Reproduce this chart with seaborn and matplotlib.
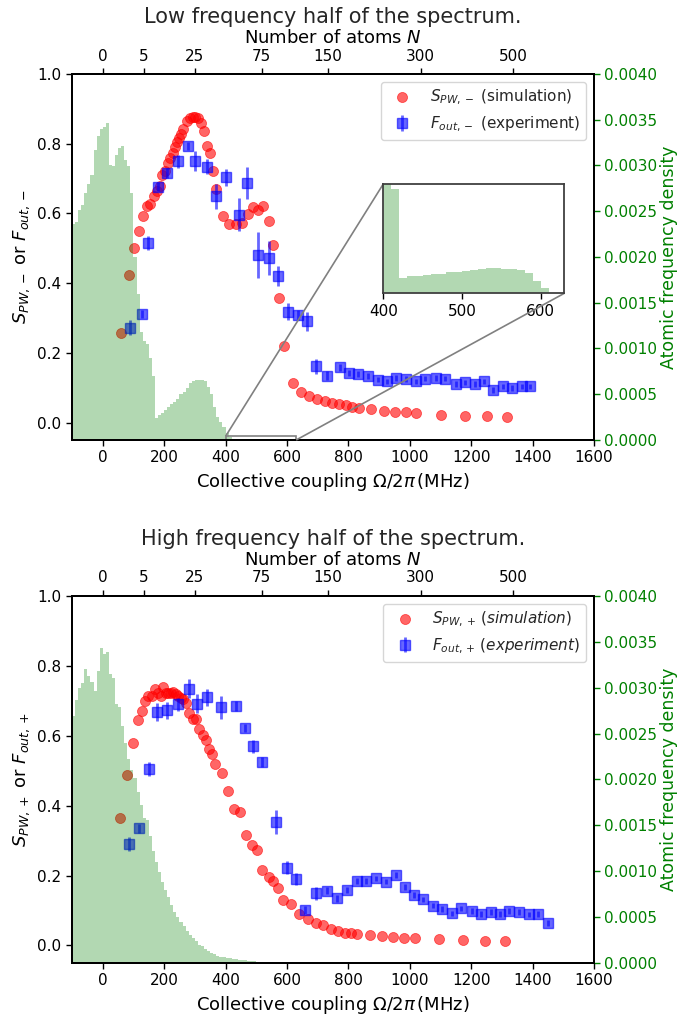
import numpy as np
import pandas as pd
import matplotlib
matplotlib.use("Agg")
import matplotlib.pyplot as plt
import seaborn as sns
from matplotlib.ticker import FormatStrFormatter
from mpl_toolkits.axes_grid1.inset_locator import mark_inset

# ---------------- data ----------------
g_coupling = 59.8                      # MHz per sqrt(atom)
atoms_N = [0, 5, 25, 75, 150, 300, 500]

hist_bin_width = 10
low_hist_start = -100
low_density = [0.00236, 0.00238, 0.00251, 0.00257, 0.00270, 0.00280, 0.00290, 0.00317, 0.00332, 0.00340,
               0.00342, 0.00346, 0.00300, 0.00299, 0.00312, 0.00319, 0.00321, 0.00306, 0.00299, 0.00270,
               0.00200, 0.00160, 0.00118, 0.00108, 0.00105, 0.00090, 0.00070, 0.00024, 0.00027, 0.00030,
               0.00033, 0.00036, 0.00039, 0.00042, 0.00045, 0.00050, 0.00053, 0.00057, 0.00062, 0.00065,
               0.00066, 0.00066, 0.00066, 0.00065, 0.00058, 0.00050, 0.00036, 0.00025, 0.00020, 0.00014,
               0.00008, 0.000038, 0.0000055, 0.0000062, 0.0000064, 0.0000066, 0.0000070, 0.0000072, 0.0000076, 0.0000078,
               0.0000082, 0.0000084, 0.0000088, 0.0000092, 0.0000092, 0.0000090, 0.0000090, 0.0000085, 0.0000075, 0.0000045,
               0.0000020]
high_hist_start = -100
high_density = [0.00269, 0.00287, 0.00300, 0.00305, 0.00320, 0.00313, 0.00306, 0.00296, 0.00318, 0.00343,
                0.00337, 0.00339, 0.00315, 0.00310, 0.00282, 0.00279, 0.00258, 0.00240, 0.00222, 0.00210,
                0.00202, 0.00186, 0.00172, 0.00158, 0.00156, 0.00138, 0.00122, 0.00110, 0.00099, 0.00088,
                0.00080, 0.00072, 0.00063, 0.00056, 0.00050, 0.00045, 0.00040, 0.00035, 0.00030, 0.00027,
                0.00024, 0.00020, 0.00018, 0.00015, 0.00013, 0.00011, 0.00010, 0.00008, 0.00007, 0.00006,
                0.00005, 0.00005, 0.00004, 0.00004, 0.00003, 0.00003, 0.00003, 0.00002, 0.00002, 0.00002,
                0.00001, 0.00001]

# Low-frequency half: simulation
sim_low_x = [60, 85, 102, 118, 132, 143, 154, 168, 178, 187, 194, 203, 212, 219, 228, 235, 243, 250, 255,
             263, 273, 284, 293, 301, 309, 320, 331, 341, 350, 360, 370, 392, 412, 433, 453, 472, 490, 506,
             522, 540, 554, 574, 590, 620, 647, 672, 698, 723, 748, 770, 792, 813, 835, 875, 915, 952, 988,
             1021, 1103, 1180, 1252, 1318]
sim_low_y = [0.257, 0.423, 0.50, 0.55, 0.593, 0.621, 0.628, 0.649, 0.663, 0.68, 0.71, 0.723, 0.745, 0.758,
             0.772, 0.791, 0.804, 0.816, 0.828, 0.842, 0.864, 0.875, 0.877, 0.877, 0.875, 0.858, 0.835, 0.794,
             0.772, 0.723, 0.67, 0.594, 0.57, 0.57, 0.572, 0.599, 0.618, 0.609, 0.621, 0.578, 0.509, 0.358,
             0.22, 0.113, 0.088, 0.077, 0.069, 0.062, 0.057, 0.052, 0.049, 0.046, 0.043, 0.039, 0.034, 0.031,
             0.029, 0.027, 0.023, 0.020, 0.018, 0.016]
# Low-frequency half: experiment
exp_low_x = [90, 129, 146, 179, 208, 244, 277, 301, 339, 369, 402, 444, 471, 505, 541, 572, 605, 637, 666,
             696, 731, 772, 802, 831, 864, 896, 925, 954, 987, 1019, 1051, 1084, 1116, 1151, 1180, 1211,
             1243, 1272, 1305, 1334, 1364, 1392]
exp_low_y = [0.272, 0.311, 0.515, 0.677, 0.715, 0.75, 0.794, 0.75, 0.734, 0.649, 0.704, 0.596, 0.687, 0.48,
             0.473, 0.42, 0.318, 0.309, 0.29, 0.161, 0.135, 0.158, 0.142, 0.139, 0.134, 0.123, 0.118, 0.128,
             0.125, 0.118, 0.126, 0.128, 0.126, 0.111, 0.115, 0.111, 0.118, 0.094, 0.104, 0.099, 0.104, 0.104]
exp_low_err = [0.021, 0.012, 0.02, 0.014, 0.014, 0.019, 0.012, 0.028, 0.021, 0.035, 0.024, 0.047, 0.047,
               0.066, 0.049, 0.028, 0.024, 0.014, 0.026, 0.021, 0.012, 0.01, 0.008, 0.008, 0.008, 0.008,
               0.008, 0.008, 0.008, 0.008, 0.008, 0.008, 0.008, 0.008, 0.008, 0.008, 0.008, 0.008, 0.008,
               0.008, 0.008, 0.008]

# High-frequency half: simulation
sim_high_x = [55, 80, 98, 114, 127, 139, 149, 160, 170, 181, 190, 197, 206, 214, 222, 230, 238, 246, 254,
              261, 271, 282, 293, 304, 315, 326, 335, 345, 355, 366, 389, 409, 429, 447, 467, 485, 502, 518,
              541, 555, 571, 586, 613, 639, 668, 693, 719, 743, 766, 788, 809, 829, 869, 911, 946, 981, 1016,
              1095, 1174, 1246, 1311]
sim_high_y = [0.366, 0.487, 0.578, 0.645, 0.67, 0.699, 0.715, 0.713, 0.735, 0.723, 0.713, 0.74, 0.721,
              0.723, 0.721, 0.725, 0.718, 0.715, 0.709, 0.704, 0.694, 0.664, 0.647, 0.649, 0.618, 0.601,
              0.589, 0.562, 0.548, 0.52, 0.494, 0.443, 0.39, 0.383, 0.315, 0.288, 0.273, 0.216, 0.197, 0.185,
              0.164, 0.13, 0.119, 0.09, 0.077, 0.063, 0.058, 0.047, 0.042, 0.037, 0.036, 0.034, 0.030, 0.028,
              0.025, 0.022, 0.020, 0.018, 0.015, 0.013, 0.012]
# High-frequency half: experiment
exp_high_x = [87, 118, 150, 178, 208, 244, 280, 306, 339, 384, 434, 463, 488, 518, 564, 599, 629, 660, 696,
              731, 763, 796, 828, 858, 890, 921, 954, 984, 1013, 1043, 1076, 1105, 1137, 1168, 1202, 1233,
              1264, 1293, 1322, 1357, 1387, 1419, 1451]
exp_high_y = [0.29, 0.335, 0.505, 0.669, 0.673, 0.69, 0.735, 0.692, 0.71, 0.682, 0.685, 0.623, 0.57, 0.525,
              0.353, 0.223, 0.19, 0.101, 0.149, 0.156, 0.135, 0.159, 0.184, 0.184, 0.192, 0.183, 0.202, 0.168,
              0.144, 0.132, 0.114, 0.104, 0.092, 0.106, 0.099, 0.09, 0.096, 0.09, 0.098, 0.095, 0.089, 0.09,
              0.065]
exp_high_err = [0.02, 0.012, 0.021, 0.026, 0.024, 0.019, 0.027, 0.027, 0.024, 0.033, 0.014, 0.012, 0.019,
                0.015, 0.034, 0.019, 0.017, 0.011, 0.019, 0.01, 0.01, 0.008, 0.008, 0.008, 0.008, 0.008,
                0.008, 0.008, 0.008, 0.008, 0.008, 0.008, 0.008, 0.008, 0.008, 0.008, 0.008, 0.008, 0.008,
                0.008, 0.008, 0.008, 0.008]

# ---------------- style ----------------
sns.set_style("ticks")
plt.rcParams.update({
    "font.family": ["DejaVu Sans"],
    "font.size": 11,
    "axes.linewidth": 1.3,
    "xtick.major.width": 1.0,
    "ytick.major.width": 1.0,
    "xtick.major.size": 4,
    "ytick.major.size": 4,
    "axes.edgecolor": "black",
    "xtick.color": "black",
    "ytick.color": "black",
    "axes.labelcolor": "black",
})

fig = plt.figure(figsize=(6.77, 10.19), dpi=100)
ax_top = fig.add_axes([0.1064, 0.5682, 0.771, 0.3592])
ax_bot = fig.add_axes([0.1064, 0.0550, 0.771, 0.3602])


def draw_panel(ax, density, hist_start, sim_x, sim_y, exp_x, exp_y, exp_err, sign, title, italic):
    edges = [hist_start + hist_bin_width * i for i in range(len(density) + 1)]
    centers = [e + hist_bin_width / 2 for e in edges[:-1]]
    hist_df = pd.DataFrame({"omega": centers, "density": density})

    if italic:
        sim_label = r"$S_{PW,%s}\,(simulation)$" % sign
        exp_label = r"$F_{out,%s}\,(experiment)$" % sign
    else:
        sim_label = r"$S_{PW,%s}$ (simulation)" % sign
        exp_label = r"$F_{out,%s}$ (experiment)" % sign

    sim_df = pd.DataFrame({"x": sim_x, "y": sim_y})
    sns.scatterplot(data=sim_df, x="x", y="y", ax=ax, color="red", alpha=0.6, s=52,
                    edgecolor="red", linewidth=0.6, label=sim_label, zorder=3)
    ax.errorbar(exp_x, exp_y, yerr=exp_err, fmt="s", color="blue", alpha=0.6, ms=7.5,
                mec="blue", elinewidth=2, capsize=0, label=exp_label, zorder=3)

    ax.set_xlim(-100, 1600)
    ax.set_ylim(-0.05, 1.0)
    ax.set_xticks(np.arange(0, 1601, 200))
    ax.set_yticks(np.arange(0, 1.01, 0.2))
    ax.yaxis.set_major_formatter(FormatStrFormatter("%.1f"))
    ax.set_xlabel(r"Collective coupling $\Omega/2\pi\,$(MHz)", fontsize=13)
    ax.set_ylabel(r"$S_{PW,%s}$ or $F_{out,%s}$" % (sign, sign), fontsize=13)
    ax.legend(loc="upper right", fontsize=11, framealpha=0.8)

    ax2 = ax.twinx()
    sns.histplot(data=hist_df, x="omega", weights="density", bins=edges, ax=ax2,
                 color="green", alpha=0.3, linewidth=0, stat="count")
    ax2.set_ylim(0, 0.004)
    ax2.set_yticks(np.arange(0, 0.00401, 0.0005))
    ax2.yaxis.set_major_formatter(FormatStrFormatter("%.4f"))
    ax2.tick_params(axis="y", colors="green", labelsize=11)
    ax2.set_ylabel("Atomic frequency density", color="green", fontsize=12.5, labelpad=2)
    ax2.set_xlim(-100, 1600)

    ax3 = ax.twiny()
    ax3.set_xlim(-100, 1600)
    ax3.set_xticks(g_coupling * np.sqrt(np.array(atoms_N, dtype=float)))
    ax3.set_xticklabels([str(n) for n in atoms_N])
    ax3.set_xlabel(r"Number of atoms $N$", fontsize=13)
    ax3.set_title(title, fontsize=15, pad=4)
    return ax2, hist_df, edges


ax2_top, low_df, low_edges = draw_panel(ax_top, low_density, low_hist_start, sim_low_x, sim_low_y,
                                        exp_low_x, exp_low_y, exp_low_err, "-",
                                        "Low frequency half of the spectrum.", False)
draw_panel(ax_bot, high_density, high_hist_start, sim_high_x, sim_high_y,
           exp_high_x, exp_high_y, exp_high_err, "+",
           "High frequency half of the spectrum.", True)

# inset zoom of the histogram tail
axins = fig.add_axes([0.5662, 0.7122, 0.2674, 0.1073])
sns.histplot(data=low_df, x="omega", weights="density", bins=low_edges, ax=axins,
             color="green", alpha=0.3, linewidth=0, stat="count")
axins.set_xlim(400, 630)
axins.set_ylim(0, 4.0e-5)
axins.set_yticks([])
axins.set_ylabel("")
axins.set_xlabel("")
axins.set_xticks([400, 500, 600])
axins.tick_params(axis="x", labelsize=11)
for sp in axins.spines.values():
    sp.set_color("0.25")
mark_inset(ax2_top, axins, loc1=2, loc2=4, fc="none", ec="0.5", lw=1.2)

fig.savefig("out.png", dpi=100)
